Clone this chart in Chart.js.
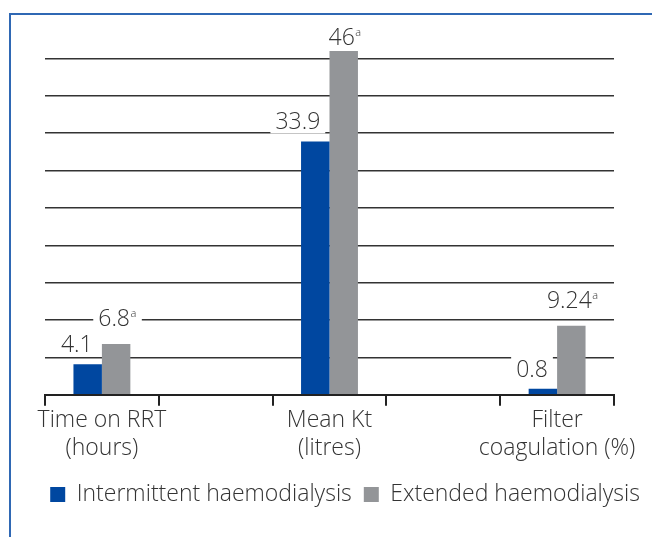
<!DOCTYPE html>
<html>
<head>
<meta charset="utf-8">
<script src="https://cdn.jsdelivr.net/npm/chart.js@4.4.1/dist/chart.umd.min.js"></script>
<style>
  html, body { margin: 0; padding: 0; background: #fff; }
  #wrap { position: relative; width: 652px; height: 537px; }
  #frame { position: absolute; left: 9px; top: 13px; right: 0; bottom: 0;
           border-left: 2px solid #2f68b4; border-top: 2px solid #2f68b4; }
  #chart { position: absolute; left: 0; top: 0; }
</style>
</head>
<body>
<div id="wrap">
  <div id="frame"></div>
  <canvas id="chart" width="652" height="537"></canvas>
</div>
<script>
const categories = [["Time on RRT", "(hours)"], "", ["Mean Kt", "(litres)"], "", ["Filter", "coagulation (%)"]];
const seriesNames = ["Intermittent haemodialysis", "Extended haemodialysis"];
const intermittent = [4.1, null, 33.9, null, 0.8];
const extended = [6.8, null, 46, null, 9.24];
const extendedNote = "a";
const gridValues = [0, 5, 10, 15, 20, 25, 30, 35, 40, 45];

const FONT = "'Open Sans', 'DejaVu Sans', sans-serif";
const TEXT = "#333";

Chart.defaults.font.family = FONT;
Chart.defaults.font.weight = 300;
Chart.defaults.color = TEXT;

// value labels with white background, so the grid lines break under them
const valueLabels = {
  id: "valueLabels",
  afterDatasetsDraw(chart) {
    const ctx = chart.ctx;
    ctx.save();
    ctx.textBaseline = "alphabetic";
    chart.data.datasets.forEach((ds, di) => {
      const meta = chart.getDatasetMeta(di);
      meta.data.forEach((bar, i) => {
        const v = ds.data[i];
        if (v == null) return;
        const text = String(v);
        ctx.font = "300 23px " + FONT;
        const w = ctx.measureText(text).width;
        const sup = di === 1 ? extendedNote : "";
        let x, y;
        if (di === 0) {
          x = bar.x + 5 - w;
          y = bar.y - 12;
        } else {
          x = bar.x - 2 - w / 2;
          y = Math.max(bar.y - 18, 45);
        }
        ctx.font = "300 11px " + FONT;
        const sw = sup ? ctx.measureText(sup).width + 1 : 0;
        ctx.fillStyle = "#fff";
        ctx.fillRect(x - 5, y - 21, w + sw + 10, 25);
        ctx.fillStyle = TEXT;
        ctx.font = "300 23px " + FONT;
        ctx.fillText(text, x, y);
        if (sup) {
          ctx.font = "300 11px " + FONT;
          ctx.fillText(sup, x + w + 0.5, y - 9);
        }
      });
    });
    ctx.restore();
  }
};

new Chart(document.getElementById("chart"), {
  type: "bar",
  data: {
    labels: categories,
    datasets: [
      { label: seriesNames[0], data: intermittent, backgroundColor: "#0047a0", borderWidth: 0 },
      { label: seriesNames[1], data: extended, backgroundColor: "#939598", borderWidth: 0 },
    ],
  },
  options: {
    responsive: false,
    animation: false,
    layout: { padding: { left: 20, right: 0, top: 51, bottom: 21 } },
    datasets: { bar: { categoryPercentage: 0.5, barPercentage: 1.0 } },
    plugins: {
      tooltip: { enabled: false },
      legend: {
        position: "bottom",
        align: "end",
        labels: { boxWidth: 15, boxHeight: 15, font: { size: 23, weight: 300 }, color: TEXT, padding: 12 },
      },
    },
    scales: {
      x: {
        offset: true,
        grid: { offset: true, drawOnChartArea: false, drawTicks: true, tickLength: 11, color: "#222", lineWidth: 2 },
        border: { display: true, color: "#222", width: 2 },
        ticks: { font: { size: 23, weight: 300 }, color: TEXT, padding: 1, maxRotation: 0, autoSkip: false },
        afterFit: (scale) => { scale.height += 8; },
      },
      y: {
        min: 0,
        max: 46,
        ticks: { display: false },
        afterBuildTicks: (scale) => { scale.ticks = gridValues.map((v) => ({ value: v })); },
        afterFit: (scale) => { scale.width = 25; },
        border: { display: false },
        grid: { drawTicks: false, color: "#333", lineWidth: 1.5 },
      },
      yRight: {
        position: "right",
        min: 0,
        max: 46,
        ticks: { display: false },
        afterFit: (scale) => { scale.width = 38; },
        border: { display: false },
        grid: { display: false },
      },
    },
  },
  plugins: [valueLabels],
});
</script>
</body>
</html>
